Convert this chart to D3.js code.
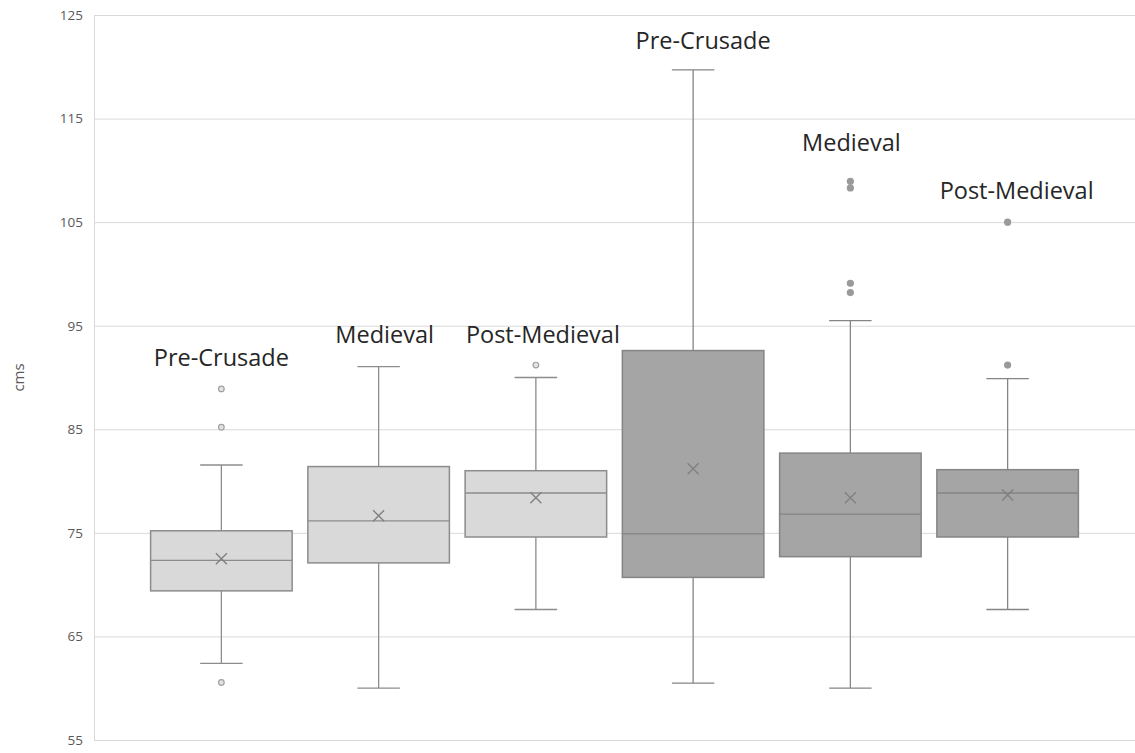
<!DOCTYPE html>
<html>
<head>
<meta charset="utf-8">
<script src="https://cdn.jsdelivr.net/npm/d3@7"></script>
<style>
  html, body { margin: 0; padding: 0; background: #ffffff; }
  svg { display: block; }
</style>
</head>
<body>
<svg id="chart" width="1135" height="753"></svg>
<script>
// ---- data ----
const periods     = ["Pre-Crusade", "Medieval", "Post-Medieval", "Pre-Crusade", "Medieval", "Post-Medieval"];
const sampleSet   = [1, 1, 1, 2, 2, 2];
const whiskerLow  = [62.4, 60.0, 67.6, 60.5, 60.0, 67.6];
const q1          = [69.4, 72.1, 74.6, 70.7, 72.7, 74.6];
const median      = [72.35, 76.15, 78.85, 74.9, 76.8, 78.85];
const q3          = [75.2, 81.4, 81.0, 92.6, 82.7, 81.1];
const whiskerHigh = [81.55, 91.05, 90.0, 119.7, 95.5, 89.9];
const mean        = [72.5, 76.65, 78.4, 81.2, 78.4, 78.65];
const outliers    = [[88.9, 85.2, 60.55], [], [91.2], [], [108.95, 108.3, 99.1, 98.2], [105.0, 91.2]];
const labelAt     = [91.1, 93.35, 93.35, 121.7, 111.85, 107.2];
const yTicks      = [55, 65, 75, 85, 95, 105, 115, 125];
const yTitle      = "cms";

// ---- layout / style ----
const W = 1135, H = 753;
const plot = { left: 94, right: 1135, top: 15, bottom: 740 };
const labelDx = [0, 6, 7, 10, 1, 9];
const fills   = { 1: "#d9d9d9", 2: "#a5a5a5" };
const strokes = { 1: "#8c8c8c", 2: "#858585" };
const font = "'Open Sans', 'Noto Sans', sans-serif";

const svg = d3.select("#chart");
const idx = d3.range(periods.length);

const x = d3.scaleBand()
  .domain(idx)
  .range([plot.left, plot.right])
  .paddingInner(0.1)
  .paddingOuter(0.36);

const y = d3.scaleLinear()
  .domain([d3.min(yTicks), d3.max(yTicks)])
  .range([plot.bottom, plot.top]);

// gridlines + tick labels
const yAxis = d3.axisLeft(y)
  .tickValues(yTicks)
  .tickSize(-(plot.right - plot.left))
  .tickPadding(11)
  .tickFormat(d3.format("d"));

const gAxis = svg.append("g")
  .attr("transform", `translate(${plot.left},0)`)
  .call(yAxis);
gAxis.select(".domain").remove();
gAxis.selectAll(".tick line").attr("stroke", "#d9d9d9").attr("stroke-width", 1);
gAxis.selectAll(".tick text")
  .attr("fill", "#595959")
  .style("font-family", font)
  .style("font-size", "13.5px");

// left vertical axis line (light)
svg.append("line")
  .attr("x1", plot.left + 0.5).attr("x2", plot.left + 0.5)
  .attr("y1", y(d3.max(yTicks))).attr("y2", y(d3.min(yTicks)))
  .attr("stroke", "#d9d9d9");

// y title
svg.append("text")
  .attr("transform", `translate(19,${(plot.top + plot.bottom) / 2}) rotate(-90)`)
  .attr("text-anchor", "middle")
  .attr("dy", "0.35em")
  .attr("fill", "#595959")
  .style("font-family", font)
  .style("font-size", "15px")
  .text(yTitle);

// boxes
const bw = x.bandwidth();
const capW = bw * 0.3;

const g = svg.selectAll("g.box")
  .data(idx)
  .join("g")
  .attr("class", "box");

g.each(function (i) {
  const sel = d3.select(this);
  const cx = x(i) + bw / 2;
  const st = strokes[sampleSet[i]];
  // whiskers
  sel.append("line")
    .attr("x1", cx).attr("x2", cx)
    .attr("y1", y(whiskerHigh[i])).attr("y2", y(q3[i]))
    .attr("stroke", st).attr("stroke-width", 1.3);
  sel.append("line")
    .attr("x1", cx).attr("x2", cx)
    .attr("y1", y(q1[i])).attr("y2", y(whiskerLow[i]))
    .attr("stroke", st).attr("stroke-width", 1.3);
  // caps
  [whiskerHigh[i], whiskerLow[i]].forEach(v => {
    sel.append("line")
      .attr("x1", cx - capW / 2).attr("x2", cx + capW / 2)
      .attr("y1", y(v)).attr("y2", y(v))
      .attr("stroke", st).attr("stroke-width", 1.3);
  });
  // box
  sel.append("rect")
    .attr("x", x(i))
    .attr("y", y(q3[i]))
    .attr("width", bw)
    .attr("height", y(q1[i]) - y(q3[i]))
    .attr("fill", fills[sampleSet[i]])
    .attr("stroke", st)
    .attr("stroke-width", 1.5);
  // median
  sel.append("line")
    .attr("x1", x(i)).attr("x2", x(i) + bw)
    .attr("y1", y(median[i])).attr("y2", y(median[i]))
    .attr("stroke", st).attr("stroke-width", 1.3);
  // mean marker (x)
  const my = y(mean[i]), s = 5.5;
  sel.append("path")
    .attr("d", `M${cx - s},${my - s}L${cx + s},${my + s}M${cx - s},${my + s}L${cx + s},${my - s}`)
    .attr("stroke", "#808080").attr("stroke-width", 1.4).attr("fill", "none");
  // outliers
  sel.selectAll("circle")
    .data(outliers[i])
    .join("circle")
    .attr("cx", cx)
    .attr("cy", d => y(d))
    .attr("r", sampleSet[i] === 1 ? 2.8 : 3.0)
    .attr("fill", sampleSet[i] === 1 ? "#e3e3e3" : "#9a9a9a")
    .attr("stroke", sampleSet[i] === 1 ? "#a0a0a0" : "#9a9a9a")
    .attr("stroke-width", 1.2);
  // label
  sel.append("text")
    .attr("x", cx + labelDx[i])
    .attr("y", y(labelAt[i]))
    .attr("text-anchor", "middle")
    .attr("fill", "#262626")
    .style("font-family", font)
    .style("font-size", "23.5px")
    .text(periods[i]);
});
</script>
</body>
</html>
